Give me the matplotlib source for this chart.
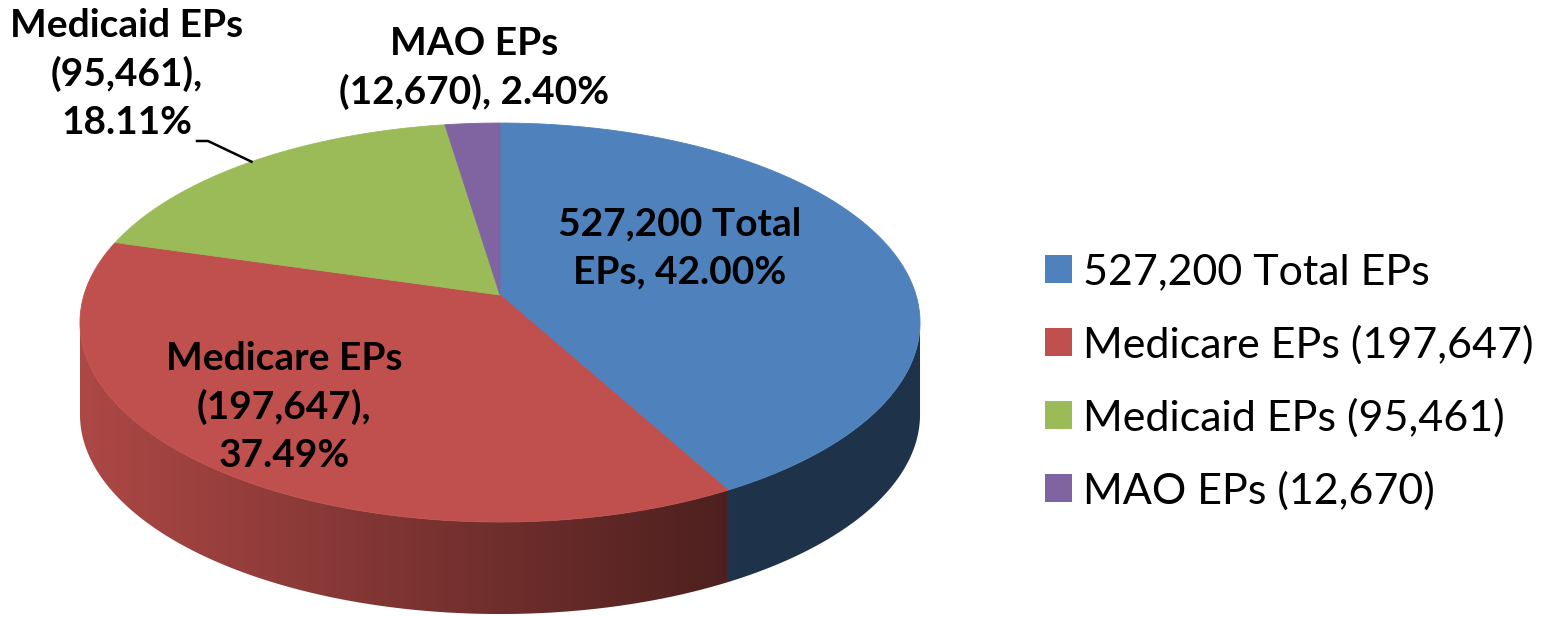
import numpy as np
import matplotlib.pyplot as plt
from matplotlib.patches import Polygon, Patch

plt.rcParams['font.family'] = ['Lato', 'DejaVu Sans']

# data
legend_labels = ['527,200 Total EPs', 'Medicare EPs (197,647)',
                 'Medicaid EPs (95,461)', 'MAO EPs (12,670)']
slice_names = ['527,200 Total\nEPs', 'Medicare EPs\n(197,647),',
               'Medicaid EPs\n(95,461),', 'MAO EPs\n(12,670),']
values = [221422, 197647, 95461, 12670]
colors = ['#4F81BD', '#C0504D', '#9BBB59', '#8064A2']

# pie geometry in pixel space (y grows downward), with a little perspective
CX, CY = 500, 295
SX, SY, K = 416, 195.7, 0.138
THICK = 92


def project(phi_deg, drop=0.0):
    phi = np.radians(phi_deg)
    u, v = np.cos(phi), np.sin(phi)
    d = 1 + K * v
    return CX + SX * u / d, CY - SY * v / d + drop


fig = plt.figure(figsize=(15.57, 6.17), dpi=100)
ax = fig.add_axes([0, 0, 1, 1])

total = float(sum(values))
fracs = np.array(values) / total
cum = np.concatenate([[0], np.cumsum(fracs)])
# slices run clockwise from 12 o'clock
starts = 90 - cum[1:] * 360
ends = 90 - cum[:-1] * 360

# visible front wall lies between the two widest rim points
vis_lo = 180 + np.degrees(np.arcsin(K))
vis_hi = 360 - np.degrees(np.arcsin(K))


def shade(x):
    f = 0.9 - 0.5 * (x - 80) / 650
    return np.clip(f, 0.39, 0.92)


for i in range(len(values)):
    a, b = starts[i] % 360, ends[i] % 360
    if b <= a:
        b += 360
    lo, hi = max(a, vis_lo), min(b, vis_hi)
    if hi <= lo:
        continue
    ang = np.linspace(lo, hi, 200)
    tx, ty = project(ang)
    bx, by = project(ang[::-1], THICK)
    pts = np.column_stack([np.concatenate([tx, bx]), np.concatenate([ty, by])])
    wall = Polygon(pts, closed=True, facecolor='none', edgecolor='none')
    ax.add_patch(wall)
    x0, x1 = pts[:, 0].min(), pts[:, 0].max()
    y0, y1 = pts[:, 1].min(), pts[:, 1].max()
    xs = np.linspace(x0, x1, 300)
    base = np.array(plt.matplotlib.colors.to_rgb(colors[i]))
    img = (shade(xs)[:, None] * base[None, :])[None, :, :]
    im = ax.imshow(img, extent=[x0, x1, y1, y0], aspect='auto',
                   interpolation='bilinear', zorder=1)
    im.set_clip_path(wall)

for i in range(len(values)):
    ang = np.linspace(starts[i], ends[i], 200)
    rx, ry = project(ang)
    pts = np.column_stack([np.concatenate([[CX], rx]), np.concatenate([[CY], ry])])
    ax.add_patch(Polygon(pts, closed=True, facecolor=colors[i],
                         edgecolor=colors[i], linewidth=0.6, zorder=2))

# data labels
pcts = ['{:.2f}%'.format(f * 100) for f in fracs]
lab_kw = dict(fontsize=28, fontweight='bold', ha='center', va='center',
              linespacing=1.42, zorder=5)
ax.text(680, 248, slice_names[0] + ', ' + pcts[0], **lab_kw)
ax.text(284, 407, slice_names[1] + '\n' + pcts[1], **lab_kw)
ax.text(127, 74, slice_names[2] + '\n' + pcts[2], **lab_kw)
ax.text(474, 68, slice_names[3] + ' ' + pcts[3], **lab_kw)

# leader line for the Medicaid label
mid = (starts[2] + ends[2]) / 2
lx, ly = project(mid)
ax.plot([197, 208, lx], [141, 141, ly], color='black', linewidth=1.8, zorder=4)

handles = [Patch(facecolor=c, edgecolor='none') for c in colors]
ax.legend(handles, legend_labels, loc='center left',
          bbox_to_anchor=(1045 / 1557, 1 - 382 / 617), fontsize=31,
          frameon=False, borderpad=0, borderaxespad=0,
          handlelength=0.63, handleheight=0.63, handletextpad=0.25,
          labelspacing=0.78)

ax.set_xlim(0, 1557)
ax.set_ylim(617, 0)
ax.axis('off')

fig.savefig('out.png', dpi=100, facecolor='white')
